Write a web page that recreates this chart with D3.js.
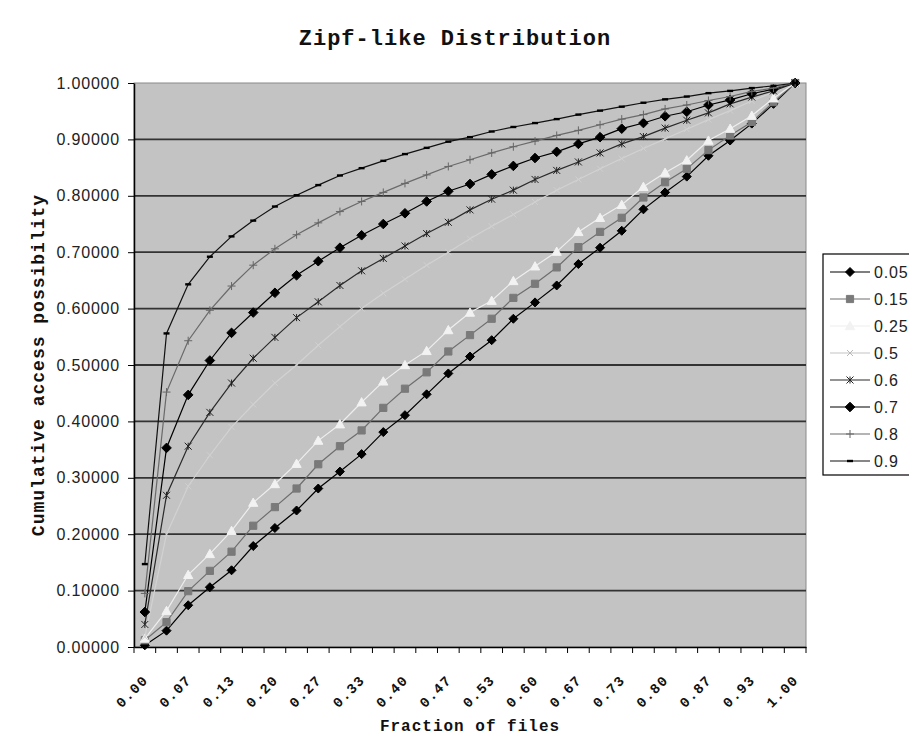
<!DOCTYPE html>
<html>
<head>
<meta charset="utf-8">
<script src="https://cdn.jsdelivr.net/npm/d3@7"></script>
<style>
  body { margin: 0; background: #fff; }
  svg { display: block; }
  .mono { font-family: "Liberation Mono", "DejaVu Sans Mono", monospace; font-weight: bold; fill: #111; }
  .num { font-family: "Liberation Sans", Arial, sans-serif; fill: #222; }
</style>
</head>
<body>
<svg id="chart" width="909" height="740"></svg>
<script>
// category labels on the x axis (fraction of files)
const fileFractions = ["0.00","0.03","0.07","0.10","0.13","0.17","0.20","0.23","0.27","0.30",
  "0.33","0.37","0.40","0.43","0.47","0.50","0.53","0.57","0.60","0.63",
  "0.67","0.70","0.73","0.77","0.80","0.83","0.87","0.90","0.93","0.97","1.00"];

// zipf skew values, one series each
const skewNames = ["0.05", "0.15", "0.25", "0.5", "0.6", "0.7", "0.8", "0.9"];

const s005 = [0.003,0.029,0.074,0.106,0.136,0.179,0.211,0.242,0.281,0.311,0.342,0.381,0.411,0.448,0.485,
  0.515,0.544,0.582,0.611,0.641,0.679,0.708,0.738,0.776,0.806,0.834,0.871,0.898,0.928,0.963,1.0];
const s015 = [0.012,0.044,0.099,0.135,0.169,0.215,0.248,0.281,0.324,0.356,0.384,0.424,0.458,0.487,0.524,
  0.553,0.582,0.619,0.644,0.673,0.709,0.736,0.761,0.797,0.824,0.848,0.881,0.907,0.931,0.966,1.0];
const s025 = [0.015,0.064,0.128,0.165,0.206,0.256,0.289,0.325,0.366,0.395,0.434,0.471,0.500,0.525,0.562,
  0.593,0.614,0.649,0.675,0.701,0.736,0.761,0.784,0.816,0.841,0.863,0.898,0.919,0.942,0.973,1.0];
const s05 = [0.018,0.200,0.285,0.340,0.390,0.430,0.468,0.500,0.535,0.568,0.600,0.627,0.652,0.677,0.700,
  0.724,0.746,0.767,0.789,0.810,0.829,0.848,0.866,0.884,0.901,0.918,0.935,0.951,0.968,0.984,1.0];
const s06 = [0.040,0.269,0.356,0.416,0.468,0.512,0.549,0.584,0.612,0.641,0.667,0.689,0.711,0.733,0.753,
  0.775,0.794,0.810,0.829,0.845,0.860,0.876,0.892,0.905,0.920,0.934,0.947,0.963,0.975,0.986,1.0];
const s07 = [0.062,0.353,0.447,0.508,0.557,0.593,0.628,0.659,0.684,0.708,0.730,0.750,0.769,0.790,0.808,
  0.821,0.838,0.853,0.867,0.878,0.892,0.904,0.919,0.929,0.941,0.949,0.961,0.970,0.981,0.989,1.0];
const s08 = [0.095,0.452,0.543,0.597,0.640,0.677,0.706,0.731,0.752,0.772,0.790,0.806,0.822,0.837,0.852,
  0.864,0.876,0.887,0.897,0.907,0.916,0.926,0.936,0.944,0.954,0.961,0.969,0.976,0.985,0.991,1.0];
const s09 = [0.147,0.556,0.643,0.692,0.728,0.756,0.781,0.801,0.819,0.836,0.849,0.862,0.874,0.885,0.896,
  0.904,0.914,0.922,0.929,0.936,0.944,0.951,0.958,0.965,0.971,0.976,0.982,0.986,0.991,0.995,1.0];

const seriesValues = [s005, s015, s025, s05, s06, s07, s08, s09];

// look of each series (excel default b/w style)
const looks = [
  { line: "#000", marker: "diamond", fill: "#000", size: 4.5 },
  { line: "#6e6e6e", marker: "square", fill: "#7a7a7a", size: 3.6 },
  { line: "#eeeeee", marker: "triangle", fill: "#f2f2f2", size: 4.6 },
  { line: "#d2d2d2", marker: "x", fill: "#d0d0d0", size: 3 },
  { line: "#2a2a2a", marker: "asterisk", fill: "#222", size: 3.5 },
  { line: "#000", marker: "diamond", fill: "#000", size: 4.8 },
  { line: "#6a6a6a", marker: "plus", fill: "#666", size: 4 },
  { line: "#111", marker: "dash", fill: "#000", size: 3 }
];

function markerPath(type, s) {
  switch (type) {
    case "diamond": return `M0,${-s}L${s},0L0,${s}L${-s},0Z`;
    case "square": return `M${-s},${-s}h${2*s}v${2*s}h${-2*s}Z`;
    case "triangle": return `M0,${-s}L${s},${s*0.8}L${-s},${s*0.8}Z`;
    case "x": return `M${-s},${-s}L${s},${s}M${-s},${s}L${s},${-s}`;
    case "asterisk": return `M${-s},${-s}L${s},${s}M${-s},${s}L${s},${-s}M0,${-s}L0,${s}`;
    case "plus": return `M${-s},0L${s},0M0,${-s}L0,${s}`;
    case "dash": return `M${-s},0L${s},0`;
  }
}
const filled = t => t === "diamond" || t === "square" || t === "triangle";

const svg = d3.select("#chart");
const margin = { top: 83, right: 103, bottom: 93, left: 134 };
const width = 909 - margin.left - margin.right;
const height = 740 - margin.top - margin.bottom;

const chart = svg.append("g").attr("transform", `translate(${margin.left},${margin.top})`);

const x = d3.scaleBand().domain(fileFractions).range([0, width]);
const y = d3.scaleLinear().domain([0, 1]).range([height, 0]);
const cx = d => x(d) + x.bandwidth() / 2;

// plot area
chart.append("rect")
  .attr("width", width).attr("height", height)
  .attr("fill", "#c3c3c3").attr("stroke", "#8a8a8a").attr("stroke-width", 1);

// horizontal gridlines
chart.append("g")
  .selectAll("line")
  .data(y.ticks(10).filter(t => t > 0 && t < 1))
  .join("line")
  .attr("x1", 0).attr("x2", width)
  .attr("y1", d => y(d)).attr("y2", d => y(d))
  .attr("stroke", "#333").attr("stroke-width", 1.8);

// y axis
const yAxis = chart.append("g")
  .call(d3.axisLeft(y).ticks(10).tickFormat(d3.format(".5f")).tickSize(6).tickSizeOuter(0).tickPadding(8));
yAxis.select(".domain").attr("stroke", "#000").attr("stroke-width", 1.5);
yAxis.selectAll(".tick line").attr("stroke", "#000");
yAxis.selectAll("text").attr("class", "num").style("font-size", "16px").style("letter-spacing", "0.8px");

// x axis
const xAxis = chart.append("g")
  .attr("transform", `translate(0,${height})`)
  .call(d3.axisBottom(x).tickValues(fileFractions.filter((d, i) => i % 2 === 0)).tickSize(0).tickSizeOuter(0));
xAxis.select(".domain").attr("stroke", "#000").attr("stroke-width", 1.5);
xAxis.selectAll("text")
  .attr("class", "mono")
  .style("font-size", "14px")
  .style("letter-spacing", "1.3px")
  .attr("text-anchor", "end")
  .attr("y", 0).attr("dy", 0)
  .attr("transform", "translate(4,34) rotate(-45)");

// category boundary ticks
xAxis.append("g")
  .selectAll("line")
  .data(fileFractions.map(d => x(d)).concat([width]))
  .join("line")
  .attr("x1", d => d).attr("x2", d => d)
  .attr("y1", 0).attr("y2", 6)
  .attr("stroke", "#000");

// series
const lineGen = d3.line().x((v, i) => cx(fileFractions[i])).y(v => y(v));

seriesValues.forEach((vals, k) => {
  const look = looks[k];
  const g = chart.append("g").attr("class", "series");
  g.append("path")
    .attr("d", lineGen(vals))
    .attr("fill", "none")
    .attr("stroke", look.line)
    .attr("stroke-width", 1.2);
  g.selectAll("path.mk")
    .data(vals)
    .join("path")
    .attr("class", "mk")
    .attr("transform", (v, i) => `translate(${cx(fileFractions[i])},${y(v)})`)
    .attr("d", markerPath(look.marker, look.size))
    .attr("fill", filled(look.marker) ? look.fill : "none")
    .attr("stroke", look.fill)
    .attr("stroke-width", look.marker === "dash" ? 2.4 : 1);
});

// titles
svg.append("text")
  .attr("class", "mono")
  .attr("x", 455).attr("y", 45)
  .attr("text-anchor", "middle")
  .style("font-size", "22px")
  .style("letter-spacing", "1px")
  .text("Zipf-like Distribution");

svg.append("text")
  .attr("class", "mono")
  .attr("x", margin.left + width / 2).attr("y", 731)
  .attr("text-anchor", "middle")
  .style("font-size", "16px")
  .style("letter-spacing", "1px")
  .text("Fraction of files");

svg.append("text")
  .attr("class", "mono")
  .attr("transform", `translate(44,${margin.top + height / 2}) rotate(-90)`)
  .attr("text-anchor", "middle")
  .style("font-size", "18px")
  .style("letter-spacing", "1px")
  .text("Cumulative access possibility");

// legend
const legend = svg.append("g").attr("transform", "translate(823,254)");
legend.append("rect")
  .attr("width", 100).attr("height", 221)
  .attr("fill", "#fff").attr("stroke", "#000").attr("stroke-width", 1.2);

const rows = legend.selectAll("g.row")
  .data(skewNames)
  .join("g")
  .attr("class", "row")
  .attr("transform", (d, i) => `translate(0,${18 + i * 27})`);

rows.append("line")
  .attr("x1", 7).attr("x2", 47)
  .attr("stroke", (d, i) => i === 3 ? "#c4c4c4" : looks[i].line)
  .attr("stroke-width", 1.2);
rows.append("path")
  .attr("transform", "translate(27,0)")
  .attr("d", (d, i) => markerPath(looks[i].marker, looks[i].size))
  .attr("fill", (d, i) => filled(looks[i].marker) ? looks[i].fill : "none")
  .attr("stroke", (d, i) => i === 3 ? "#b8b8b8" : looks[i].fill)
  .attr("stroke-width", (d, i) => looks[i].marker === "dash" ? 2.4 : 1);
rows.append("text")
  .attr("class", "num")
  .attr("x", 51).attr("dy", "0.36em")
  .style("font-size", "16px")
  .style("letter-spacing", "0.8px")
  .text(d => d);
</script>
</body>
</html>
